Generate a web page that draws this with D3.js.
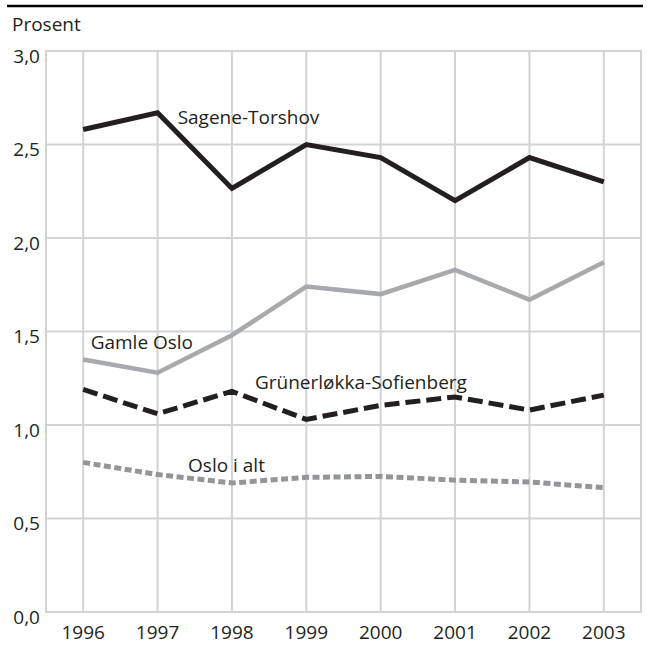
<!DOCTYPE html>
<html>
<head>
<meta charset="utf-8">
<script src="https://cdn.jsdelivr.net/npm/d3@7"></script>
<style>
  body { margin: 0; background: #fff; }
  text { font-family: "Open Sans", sans-serif; fill: #231f20; }
</style>
</head>
<body>
<svg id="chart" width="649" height="646"></svg>
<script>
// data
const years = [1996, 1997, 1998, 1999, 2000, 2001, 2002, 2003];
const sageneTorshov = [2.58, 2.67, 2.265, 2.50, 2.43, 2.20, 2.43, 2.30];
const gamleOslo = [1.35, 1.28, 1.48, 1.74, 1.70, 1.83, 1.67, 1.87];
const grunerlokka = [1.19, 1.06, 1.18, 1.03, 1.105, 1.15, 1.08, 1.16];
const osloIAlt = [0.80, 0.735, 0.69, 0.72, 0.725, 0.705, 0.695, 0.665];
const yTicks = [0, 0.5, 1, 1.5, 2, 2.5, 3];
const seriesNames = ["Sagene-Torshov", "Gamle Oslo", "Grünerløkka-Sofienberg", "Oslo i alt"];

const svg = d3.select("#chart");
const fmt = d3.format(".1f");
const comma = (v) => fmt(v).replace(".", ",");

const x = d3.scaleLinear().domain([1995.5, 2003.5]).range([46, 641]);
const y = d3.scaleLinear().domain([0, 3]).range([612, 51]);

// top rule
svg.append("line")
  .attr("x1", 7).attr("x2", 643)
  .attr("y1", 6).attr("y2", 6)
  .attr("stroke", "#000").attr("stroke-width", 2.5);

svg.append("text")
  .attr("x", 12).attr("y", 31)
  .style("font-size", "19px")
  .text("Prosent");

// grid
const grid = svg.append("g")
  .attr("stroke", "#d1d3d4")
  .attr("stroke-width", 2);

yTicks.forEach((t) => {
  grid.append("line")
    .attr("x1", x.range()[0]).attr("x2", x.range()[1])
    .attr("y1", y(t)).attr("y2", y(t));
});
years.forEach((yr) => {
  grid.append("line")
    .attr("x1", x(yr)).attr("x2", x(yr))
    .attr("y1", y(3)).attr("y2", y(0));
});
x.range().forEach((px) => {
  grid.append("line")
    .attr("x1", px).attr("x2", px)
    .attr("y1", y(3) - 1).attr("y2", y(0) + 1);
});

// axis labels
svg.selectAll(".ylab")
  .data(yTicks)
  .join("text")
  .attr("class", "ylab")
  .attr("x", 40)
  .attr("y", (d) => y(d) + 11.5)
  .attr("text-anchor", "end")
  .style("font-size", "19px")
  .text(comma);

svg.selectAll(".xlab")
  .data(years)
  .join("text")
  .attr("class", "xlab")
  .attr("x", (d) => x(d))
  .attr("y", y(0) + 27)
  .attr("text-anchor", "middle")
  .style("font-size", "19px")
  .text((d) => d);

// lines
const line = d3.line()
  .x((d, i) => x(years[i]))
  .y((d) => y(d));

const series = [
  { values: gamleOslo, color: "#a7a9ac", width: 4.5, dash: null },
  { values: osloIAlt, color: "#939598", width: 5, dash: "7,3.5" },
  { values: grunerlokka, color: "#231f20", width: 5, dash: "15,6" },
  { values: sageneTorshov, color: "#231f20", width: 5, dash: null },
];

series.forEach((s) => {
  svg.append("path")
    .attr("d", line(s.values))
    .attr("fill", "none")
    .attr("stroke", s.color)
    .attr("stroke-width", s.width)
    .attr("stroke-dasharray", s.dash)
    .attr("stroke-linejoin", "miter");
});

// series labels, anchored in data space
const labelAt = [
  { year: 1997.27, value: 2.612 },
  { year: 1996.1, value: 1.408 },
  { year: 1998.31, value: 1.194 },
  { year: 1997.41, value: 0.749 },
];
seriesNames.forEach((name, i) => {
  svg.append("text")
    .attr("x", x(labelAt[i].year))
    .attr("y", y(labelAt[i].value))
    .style("font-size", "19px")
    .text(name);
});
</script>
</body>
</html>
